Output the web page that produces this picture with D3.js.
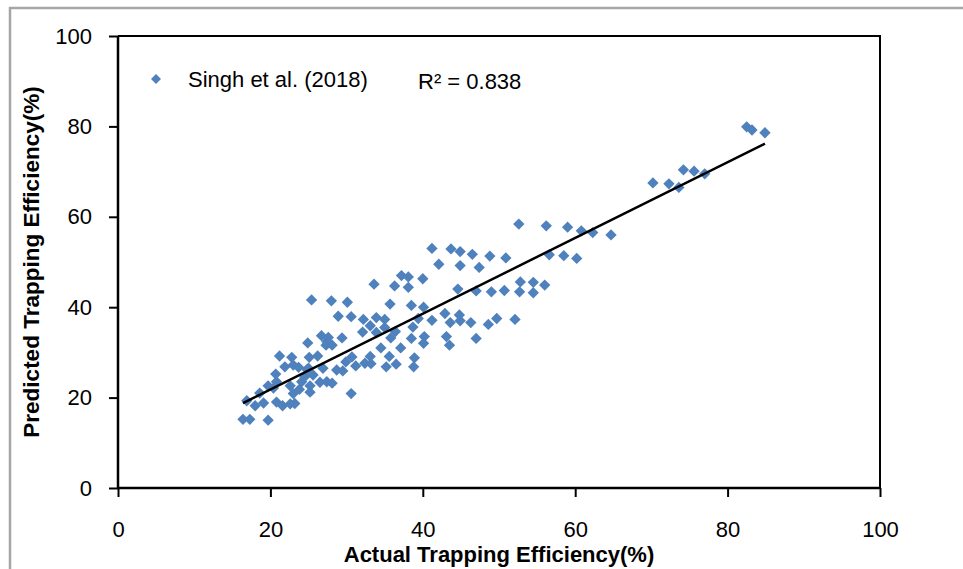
<!DOCTYPE html>
<html>
<head>
<meta charset="utf-8">
<script src="https://cdn.jsdelivr.net/npm/d3@7/dist/d3.min.js"></script>
<style>
body{margin:0;background:#fff;}
svg text{font-family:"Liberation Sans",Arial,sans-serif;fill:#000;}
</style>
</head>
<body>
<svg width="963" height="569"></svg>
<script>
// values (actual %, predicted %)
var actual = [16.4,17.3,19.7,16.9,18.0,19.1,18.6,19.7,20.4,20.8,21.6,22.6,23.2,20.8,22.6,23.0,23.8,24.1,25.2,25.2,
	20.7,21.9,23.0,23.7,21.2,22.8,24.5,24.8,25.6,26.5,27.4,28.1,25.1,26.2,25.0,26.9,28.7,24.9,26.7,27.4,
	27.3,28.1,27.6,29.4,25.4,28.0,30.1,28.9,30.6,30.6,29.5,29.9,30.7,31.2,32.4,33.1,33.2,32.2,33.9,35.0,
	33.1,32.1,33.9,35.0,35.8,36.4,34.5,37.1,35.6,36.5,35.2,38.9,38.8,38.7,39.4,38.5,40.2,40.1,33.6,36.3,
	38.1,37.2,38.1,40.0,35.7,38.5,40.1,41.2,42.9,43.6,44.8,44.9,46.3,43.1,43.5,47.0,48.6,49.7,52.1,44.6,
	47.0,49.0,50.7,52.7,54.5,52.8,54.5,56.0,41.2,43.7,44.9,46.5,48.8,50.9,42.1,44.9,47.4,56.6,58.5,60.2,
	52.6,56.2,59.0,60.8,62.3,64.7,70.2,72.3,73.6,74.2,75.6,77.0,82.5,83.2,84.9];
var predicted = [15.2,15.2,15.0,19.3,18.2,18.8,21.0,22.6,22.1,19.0,18.2,18.6,18.7,23.5,22.6,20.9,21.8,23.5,21.2,22.6,
	25.2,26.8,27.2,26.7,29.2,28.9,24.6,26.2,25.0,23.4,23.5,23.2,28.9,29.2,26.5,26.5,26.1,32.1,33.7,32.4,
	31.6,31.6,33.3,33.2,41.6,41.4,41.1,38.0,37.9,20.9,25.9,27.9,29.0,27.0,27.6,29.1,27.5,37.3,37.7,37.3,
	35.9,34.5,34.4,35.5,33.2,34.6,31.0,31.0,29.1,27.4,26.8,28.8,26.8,35.6,37.5,33.1,33.5,32.0,45.1,44.7,
	44.4,47.0,46.7,46.3,40.7,40.4,40.0,37.1,38.6,36.6,38.3,37.0,36.6,33.5,31.6,33.1,36.2,37.5,37.3,44.0,
	43.6,43.4,43.7,43.4,43.2,45.6,45.5,44.9,53.0,52.9,52.3,51.7,51.3,50.9,49.5,49.2,48.8,51.6,51.4,50.8,
	58.4,58.0,57.7,56.9,56.5,56.0,67.5,67.3,66.5,70.4,70.1,69.5,79.9,79.2,78.6];
var xTicks = [0,20,40,60,80,100];
var yTicks = [0,20,40,60,80,100];
var seriesName = "Singh et al. (2018)";
var r2Label = "R\u00b2 = 0.838";
var xTitle = "Actual Trapping Efficiency(%)";
var yTitle = "Predicted Trapping Efficiency(%)";

var svg = d3.select("svg");
var margin = {top:36, right:83, bottom:81, left:118};
var width = 963 - margin.left - margin.right;
var height = 569 - margin.top - margin.bottom;
var blue = "#4F81BD";

// outer chart border (cut off on right / bottom)
svg.append("rect").attr("x",10).attr("y",8).attr("width",1000).attr("height",600)
	.attr("fill","none").attr("stroke","#a6a6a6").attr("stroke-width",2.5);

var g = svg.append("g").attr("transform","translate("+margin.left+","+margin.top+")");

var x = d3.scaleLinear().domain([0,100]).range([0,width]);
var y = d3.scaleLinear().domain([0,100]).range([height,0]);

var pts = actual.map(function(a,i){return {x:a, y:predicted[i]}});

// plot frame top/right
g.append("path").attr("d","M0,0H"+width+"V"+height)
	.attr("fill","none").attr("stroke","#000").attr("stroke-width",2);

// points
var diamond = d3.symbol().type(d3.symbolSquare).size(64);
g.append("g").selectAll("path").data(pts).enter().append("path")
	.attr("d",diamond)
	.attr("transform",function(d){return "translate("+x(d.x)+","+y(d.y)+") rotate(45)"})
	.attr("fill",blue);

// linear trend line from least squares
var mx = d3.mean(pts,function(d){return d.x}), my = d3.mean(pts,function(d){return d.y});
var sxy = d3.sum(pts,function(d){return (d.x-mx)*(d.y-my)});
var sxx = d3.sum(pts,function(d){return (d.x-mx)*(d.x-mx)});
var slope = sxy/sxx, icpt = my - slope*mx;
var xr = d3.extent(actual);
g.append("line")
	.attr("x1",x(xr[0])).attr("y1",y(icpt+slope*xr[0]))
	.attr("x2",x(xr[1])).attr("y2",y(icpt+slope*xr[1]))
	.attr("stroke","#000").attr("stroke-width",2.5);

// axes
var xAxis = g.append("g").attr("transform","translate(0,"+height+")")
	.call(d3.axisBottom(x).tickValues(xTicks).tickSize(9).tickPadding(24));
var yAxis = g.append("g")
	.call(d3.axisLeft(y).tickValues(yTicks).tickSize(9).tickPadding(17));
[xAxis,yAxis].forEach(function(a){
	a.select(".domain").attr("stroke","#000").attr("stroke-width",2.5);
	a.selectAll(".tick line").attr("stroke","#000").attr("stroke-width",2);
	a.selectAll("text").style("font-size","22px").attr("font-family",null);
});
xAxis.selectAll(".domain").attr("d","M0,0H"+width);
yAxis.selectAll(".domain").attr("d","M0,0V"+height);

// axis titles
svg.append("text").attr("x",margin.left+width/2).attr("y",562)
	.attr("text-anchor","middle").style("font-size","22px").style("font-weight","bold")
	.text(xTitle);
svg.append("text").attr("transform","translate(39,"+(margin.top+height/2)+") rotate(-90)")
	.attr("text-anchor","middle").style("font-size","22.5px").style("font-weight","bold")
	.text(yTitle);

// legend + R2
svg.append("path").attr("d",d3.symbol().type(d3.symbolSquare).size(50))
	.attr("transform","translate(156,79) rotate(45)").attr("fill",blue);
svg.append("text").attr("x",188).attr("y",87).style("font-size","22px").text(seriesName);
svg.append("text").attr("x",418).attr("y",89).style("font-size","22px").text(r2Label);
</script>
</body>
</html>
